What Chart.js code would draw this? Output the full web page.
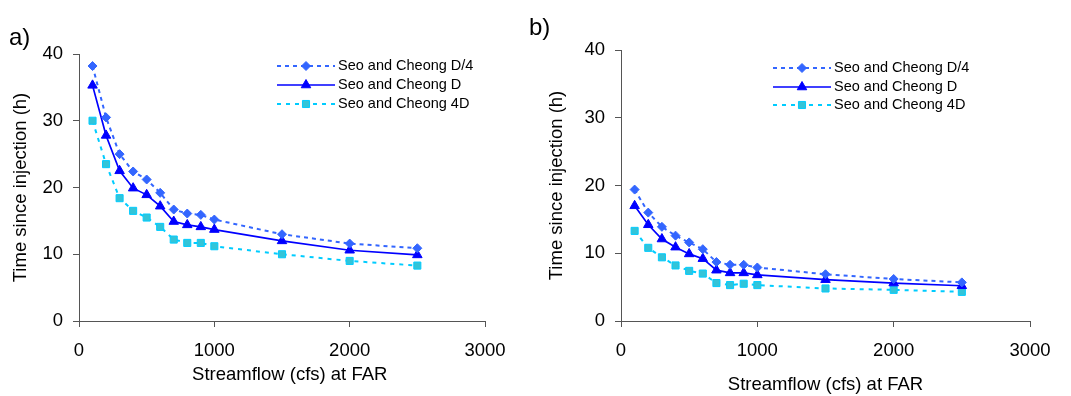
<!DOCTYPE html>
<html lang="en">
<head>
<meta charset="UTF-8">
<title>Time since injection vs streamflow</title>
<style>
  body { margin: 0; background: #fff; }
  .panel { position: absolute; top: 0; height: 396px; }
  .tag { position: absolute; font: 24px "Liberation Sans", Arial, sans-serif; color: #000; line-height: 28px; }
</style>
</head>
<body>
<div class="panel" style="left:0;width:535px"><canvas id="chartA" width="535" height="396"></canvas></div>
<div class="panel" style="left:535px;width:536px"><canvas id="chartB" width="536" height="396"></canvas></div>
<div class="tag" style="left:9px;top:23px">a)</div>
<div class="tag" style="left:529px;top:13px">b)</div>

<script src="https://cdn.jsdelivr.net/npm/chart.js"></script>
<script>
// streamflow at FAR (cfs)
const flows = [100, 200, 300, 400, 500, 600, 700, 800, 900, 1000, 1500, 2000, 2500]
const seriesNames = ['Seo and Cheong D/4', 'Seo and Cheong D', 'Seo and Cheong 4D']
const xTicks = [0, 1000, 2000, 3000]
const yTicks = [0, 10, 20, 30, 40]

// panel a)
const aQuarterD = [38.2, 30.5, 25.0, 22.4, 21.2, 19.2, 16.7, 16.1, 15.9, 15.2, 13.0, 11.6, 10.9]
const aD        = [35.3, 27.8, 22.5, 19.9, 18.9, 17.2, 14.9, 14.4, 14.1, 13.7, 12.0, 10.6, 9.9]
const aFourD    = [30.0, 23.5, 18.4, 16.5, 15.5, 14.1, 12.2, 11.7, 11.7, 11.2, 10.0, 9.0, 8.3]

// panel b)
const bQuarterD = [19.4, 16.0, 13.9, 12.6, 11.6, 10.6, 8.7, 8.3, 8.3, 7.9, 6.9, 6.2, 5.7]
const bD        = [17.0, 14.2, 12.1, 10.9, 9.9, 9.2, 7.5, 7.1, 7.1, 6.8, 6.1, 5.6, 5.2]
const bFourD    = [13.3, 10.8, 9.4, 8.2, 7.4, 7.0, 5.6, 5.3, 5.5, 5.3, 4.8, 4.6, 4.3]

const FONT = '"Liberation Sans", Arial, sans-serif'

function pts(arr) {
    return flows.map((x, i) => ({ x: x, y: arr[i] }))
}

function montarDatasets(quarter, full, four) {
    return [
        {
            label: seriesNames[0], data: pts(quarter),
            borderColor: '#3366FF', borderWidth: 2, borderDash: [4, 4],
            pointStyle: 'rectRot', pointRadius: 4.5,
            pointBackgroundColor: '#3366FF', pointBorderColor: '#3366FF', pointBorderWidth: 1
        },
        {
            label: seriesNames[1], data: pts(full),
            borderColor: '#0000FF', borderWidth: 1.7,
            pointStyle: 'triangle', pointRadius: 5.5,
            pointBackgroundColor: '#0000FF', pointBorderColor: '#0000FF', pointBorderWidth: 1
        },
        {
            label: seriesNames[2], data: pts(four),
            borderColor: '#00CCFF', borderWidth: 2, borderDash: [4, 5],
            pointStyle: 'rect', pointRadius: 5,
            pointBackgroundColor: '#33C4D8', pointBorderColor: '#00CCFF', pointBorderWidth: 1
        }
    ]
}

// legend drawn inside the plot, like the original figure
const sideLegend = {
    id: 'sideLegend',
    afterDatasetsDraw(chart, args, opts) {
        const ctx = chart.ctx
        chart.data.datasets.forEach((ds, i) => {
            const y = opts.rows[i]
            ctx.save()
            ctx.strokeStyle = ds.borderColor
            ctx.lineWidth = ds.borderWidth
            ctx.setLineDash(ds.borderDash || [])
            ctx.beginPath()
            ctx.moveTo(opts.x0, y)
            ctx.lineTo(opts.x1, y)
            ctx.stroke()
            ctx.setLineDash([])
            ctx.fillStyle = ds.pointBackgroundColor
            ctx.strokeStyle = ds.pointBorderColor
            ctx.lineWidth = 1
            Chart.helpers.drawPoint(ctx, { pointStyle: ds.pointStyle, radius: ds.pointRadius, borderWidth: 1, rotation: 0 }, (opts.x0 + opts.x1) / 2, y)
            ctx.fillStyle = '#000'
            ctx.font = '14.5px ' + FONT
            ctx.textBaseline = 'middle'
            ctx.textAlign = 'left'
            ctx.fillText(ds.label, opts.tx, y)
            ctx.restore()
        })
    }
}

function criarGrafico(id, datasets, cfg) {
    return new Chart(document.getElementById(id), {
        type: 'line',
        data: { datasets: datasets },
        plugins: [sideLegend],
        options: {
            responsive: false,
            animation: false,
            layout: { padding: { left: 0, top: cfg.top, right: cfg.right, bottom: 0 } },
            elements: { line: { tension: 0 } },
            plugins: {
                legend: { display: false },
                tooltip: { enabled: false },
                sideLegend: cfg.legend
            },
            scales: {
                x: {
                    type: 'linear', min: 0, max: 3000,
                    afterBuildTicks: s => { s.ticks = xTicks.map(v => ({ value: v })) },
                    afterFit: s => { s.height = 396 - cfg.bottom },
                    grid: { drawOnChartArea: false, tickLength: 6, tickColor: '#555' },
                    border: { color: '#555' },
                    ticks: {
                        color: '#000', padding: 13, maxRotation: 0,
                        font: { family: FONT, size: 18.5 },
                        callback: v => String(v)
                    },
                    title: {
                        display: true, text: cfg.xTitle, color: '#000',
                        font: { family: FONT, size: 18.5 },
                        padding: { top: 0, bottom: cfg.xTitlePad }
                    }
                },
                y: {
                    min: 0, max: 40,
                    afterBuildTicks: s => { s.ticks = yTicks.map(v => ({ value: v })) },
                    afterFit: s => { s.width = cfg.left },
                    grid: { drawOnChartArea: false, tickLength: 6, tickColor: '#555' },
                    border: { color: '#555' },
                    ticks: {
                        color: '#000', padding: 10,
                        font: { family: FONT, size: 18.5 },
                        callback: v => String(v)
                    },
                    title: {
                        display: true, text: 'Time since injection (h)', color: '#000',
                        font: { family: FONT, size: 18.5 },
                        padding: { top: cfg.yTitlePad, bottom: 0 }
                    }
                }
            }
        }
    })
}

criarGrafico('chartA', montarDatasets(aQuarterD, aD, aFourD), {
    left: 79, top: 54, right: 50, bottom: 321,
    xTitle: '   Streamflow (cfs) at FAR', xTitlePad: 10, yTitlePad: 10,
    legend: { x0: 277, x1: 335, tx: 338, rows: [66, 85, 104] }
})

criarGrafico('chartB', montarDatasets(bQuarterD, bD, bFourD), {
    left: 86, top: 50, right: 41, bottom: 321,
    xTitle: 'Streamflow (cfs) at FAR', xTitlePad: 0, yTitlePad: 11,
    legend: { x0: 238, x1: 296, tx: 299, rows: [68, 87, 105] }
})
</script>
</body>
</html>
